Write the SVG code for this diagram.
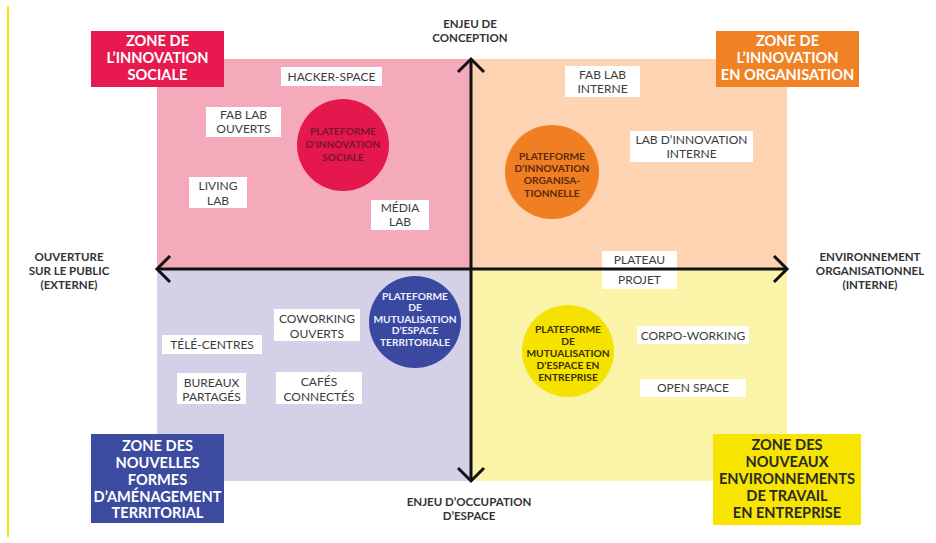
<svg xmlns="http://www.w3.org/2000/svg" width="936" height="543" viewBox="0 0 936 543">
<defs>
<style>
.zl{font-family:Lato,"Open Sans","Liberation Sans",sans-serif;font-weight:700;font-size:14.6px;text-anchor:middle;}
.ax{font-family:Lato,"Open Sans","Liberation Sans",sans-serif;font-weight:700;font-size:11.5px;fill:#333333;text-anchor:middle;}
.bx{font-family:Lato,"Open Sans","Liberation Sans",sans-serif;font-weight:400;font-size:12px;fill:#3c3c3c;text-anchor:middle;}
.ct{font-family:Lato,"Open Sans","Liberation Sans",sans-serif;font-weight:700;font-size:10.2px;text-anchor:middle;}
.wb{fill:#ffffff;}
.axis{stroke:#111;stroke-width:3;fill:none;stroke-linecap:butt;}
</style>
</defs>
<rect x="0" y="0" width="936" height="543" fill="#ffffff"/>
<line x1="8" y1="6" x2="8" y2="537" stroke="#f5e800" stroke-width="2"/>

<g id="quadrants">
<rect x="157" y="59" width="314" height="210" fill="#f4aabb"/>
<rect x="471" y="59" width="316" height="210" fill="#fdd3b1"/>
<rect x="157" y="269" width="314" height="212" fill="#d3d0e8"/>
<rect x="471" y="269" width="316" height="212" fill="#fbf3a8"/>
</g>

<g id="zone-sociale">
<rect x="91" y="31" width="133" height="56" fill="#e8194f"/>
<text class="zl" fill="#ffffff"><tspan x="157.5" y="45.5">ZONE DE</tspan><tspan x="157.5" y="62.5">L’INNOVATION</tspan><tspan x="157.5" y="79.5">SOCIALE</tspan></text>
</g>
<g id="zone-organisation">
<rect x="716" y="31" width="143" height="56" fill="#f08124"/>
<text class="zl" fill="#ffffff"><tspan x="787.5" y="45.5">ZONE DE</tspan><tspan x="787.5" y="62.5">L’INNOVATION</tspan><tspan x="787.5" y="79.5">EN ORGANISATION</tspan></text>
</g>
<g id="zone-territorial">
<rect x="91" y="434" width="133" height="89" fill="#3c4a9f"/>
<text class="zl" fill="#ffffff"><tspan x="157.5" y="451">ZONE DES</tspan><tspan x="157.5" y="468">NOUVELLES</tspan><tspan x="157.5" y="484.5">FORMES</tspan><tspan x="157.5" y="501.5">D’AMÉNAGEMENT</tspan><tspan x="157.5" y="518">TERRITORIAL</tspan></text>
</g>
<g id="zone-entreprise">
<rect x="713" y="434" width="148" height="91" fill="#f7e500"/>
<text class="zl" fill="#2a2a2a"><tspan x="787" y="449.5">ZONE DES</tspan><tspan x="787" y="467">NOUVEAUX</tspan><tspan x="787" y="484">ENVIRONNEMENTS</tspan><tspan x="787" y="501">DE TRAVAIL</tspan><tspan x="787" y="518">EN ENTREPRISE</tspan></text>
</g>

<g id="hacker-space"><rect class="wb" x="281" y="67" width="101" height="19"/><text class="bx" x="331.5" y="80.5">HACKER-SPACE</text></g>
<g id="fab-lab-ouverts"><rect class="wb" x="206" y="107" width="75" height="30"/><text class="bx"><tspan x="243.5" y="118.5">FAB LAB</tspan><tspan x="243.5" y="132.5">OUVERTS</tspan></text></g>
<g id="living-lab"><rect class="wb" x="189" y="177" width="58" height="31"/><text class="bx"><tspan x="218" y="189.5">LIVING</tspan><tspan x="218" y="204.5">LAB</tspan></text></g>
<g id="media-lab"><rect class="wb" x="371" y="200" width="58" height="30"/><text class="bx"><tspan x="400" y="211.5">MÉDIA</tspan><tspan x="400" y="226">LAB</tspan></text></g>
<g id="fab-lab-interne"><rect class="wb" x="565" y="66" width="75" height="31"/><text class="bx"><tspan x="602.5" y="78.5">FAB LAB</tspan><tspan x="602.5" y="92.5">INTERNE</tspan></text></g>
<g id="lab-innovation-interne"><rect class="wb" x="630" y="131" width="123" height="31"/><text class="bx"><tspan x="691.5" y="143.5">LAB D’INNOVATION</tspan><tspan x="691.5" y="157.5">INTERNE</tspan></text></g>
<g id="plateau-projet"><rect class="wb" x="602" y="251" width="75" height="38"/><text class="bx"><tspan x="639.5" y="263.5">PLATEAU</tspan><tspan x="639.5" y="283.5">PROJET</tspan></text></g>
<g id="coworking-ouverts"><rect class="wb" x="274" y="309" width="86" height="32"/><text class="bx"><tspan x="317" y="322.5">COWORKING</tspan><tspan x="317" y="337.5">OUVERTS</tspan></text></g>
<g id="tele-centres"><rect class="wb" x="162" y="335" width="100" height="19"/><text class="bx" x="212" y="349">TÉLÉ-CENTRES</text></g>
<g id="bureaux-partages"><rect class="wb" x="177" y="373" width="69" height="31"/><text class="bx"><tspan x="211.5" y="386.5">BUREAUX</tspan><tspan x="211.5" y="401">PARTAGÉS</tspan></text></g>
<g id="cafes-connectes"><rect class="wb" x="276" y="372" width="86" height="32"/><text class="bx"><tspan x="319" y="386">CAFÉS</tspan><tspan x="319" y="401">CONNECTÉS</tspan></text></g>
<g id="corpo-working"><rect class="wb" x="637" y="326" width="112" height="18"/><text class="bx" x="693" y="339.5">CORPO-WORKING</text></g>
<g id="open-space"><rect class="wb" x="640" y="379" width="106" height="18"/><text class="bx" x="693" y="392">OPEN SPACE</text></g>

<g id="connectors">
<line class="axis" x1="157" y1="269" x2="787" y2="269"/>
<line class="axis" x1="471" y1="59" x2="471" y2="481"/>
<polyline class="axis" points="170,256 157,269 170,282"/>
<polyline class="axis" points="774,256 787,269 774,282"/>
<polyline class="axis" points="458,72 471,59 484,72"/>
<polyline class="axis" points="458,468 471,481 484,468"/>
</g>

<g id="plateforme-sociale">
<circle cx="343" cy="145" r="46" fill="#e5184e"/>
<text class="ct" fill="#7c1230"><tspan x="343" y="135">PLATEFORME</tspan><tspan x="343" y="148">D’INNOVATION</tspan><tspan x="343" y="161">SOCIALE</tspan></text>
</g>
<g id="plateforme-organisationnelle">
<circle cx="552" cy="172" r="47" fill="#f07e22"/>
<text class="ct" fill="#5a2a10"><tspan x="552" y="159.5">PLATEFORME</tspan><tspan x="552" y="171.5">D’INNOVATION</tspan><tspan x="552" y="184">ORGANISA-</tspan><tspan x="552" y="196.5">TIONNELLE</tspan></text>
</g>
<g id="plateforme-territoriale">
<circle cx="415" cy="322" r="46" fill="#3a48a0"/>
<text class="ct" fill="#eef0ff"><tspan x="415" y="299.5">PLATEFORME</tspan><tspan x="415" y="311">DE</tspan><tspan x="415" y="322.8">MUTUALISATION</tspan><tspan x="415" y="334.4">D’ESPACE</tspan><tspan x="415" y="346">TERRITORIALE</tspan></text>
</g>
<g id="plateforme-entreprise">
<circle cx="568" cy="351" r="46" fill="#f6e200"/>
<text class="ct" fill="#3a3200"><tspan x="568" y="332.5">PLATEFORME</tspan><tspan x="568" y="344.5">DE</tspan><tspan x="568" y="356.5">MUTUALISATION</tspan><tspan x="568" y="368.5">D’ESPACE EN</tspan><tspan x="568" y="380.5">ENTREPRISE</tspan></text>
</g>

<g id="axis-labels">
<text class="ax"><tspan x="470" y="28">ENJEU DE</tspan><tspan x="470" y="42">CONCEPTION</tspan></text>
<text class="ax"><tspan x="69" y="261">OUVERTURE</tspan><tspan x="69" y="275">SUR LE PUBLIC</tspan><tspan x="69" y="289">(EXTERNE)</tspan></text>
<text class="ax"><tspan x="870" y="261">ENVIRONNEMENT</tspan><tspan x="870" y="275">ORGANISATIONNEL</tspan><tspan x="870" y="289">(INTERNE)</tspan></text>
<text class="ax"><tspan x="469" y="506">ENJEU D’OCCUPATION</tspan><tspan x="469" y="520">D’ESPACE</tspan></text>
</g>
</svg>
